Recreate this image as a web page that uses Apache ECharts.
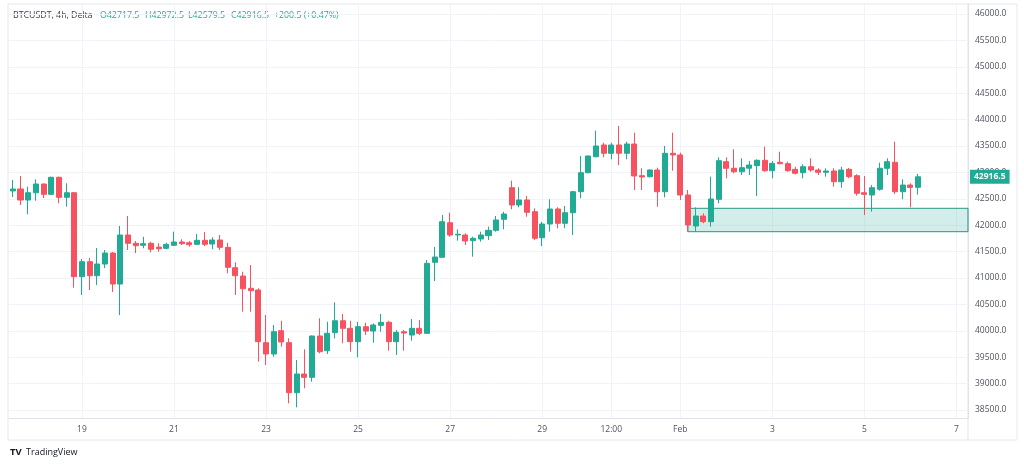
<!DOCTYPE html>
<html><head><meta charset="utf-8">
<script src="https://cdn.jsdelivr.net/npm/echarts@6/dist/echarts.min.js"></script>
<style>html,body{margin:0;padding:0;background:#fff}#c{width:1024px;height:467px}</style>
</head><body><div id="c"></div>
<script>
// ---- data (BTCUSDT 4h) ----
const opens = [42648,42686,42477,42615,42780,42585,42907,42528,42615,41025,41309,41044,41265,41473,40886,41814,41657,41620,41657,41585,41562,41620,41682,41668,41638,41714,41644,41720,41581,41195,41038,40805,40773,39775,39561,40002,39775,38828,39182,39119,39902,39623,39965,40191,40047,39794,40078,39996,40104,40161,39794,39983,39920,40047,39952,41297,41392,42047,41815,41814,41707,41739,41801,41903,42112,42710,42383,42478,42256,41763,42023,42307,42036,42237,42635,42994,43297,43519,43362,43519,43362,43538,42938,42918,43045,42634,43362,43330,42572,41985,42174,42066,42490,43203,43078,43013,43080,43127,43229,43032,43191,43165,43058,42994,43108,43045,43002,43026,42824,43058,42938,42615,42572,42680,43078,43191,42634,42761,42717.5];
const closes = [42686,42477,42615,42780,42585,42907,42528,42615,41025,41309,41044,41265,41473,40886,41814,41657,41612,41650,41544,41555,41638,41682,41650,41631,41714,41638,41720,41581,41203,41044,40797,40760,39794,39561,39983,39788,38828,39182,39119,39902,39604,39953,40191,40047,39794,40078,39996,40110,40161,39794,39971,39958,40047,39952,41278,41398,42066,41815,41828,41701,41752,41814,41903,42099,42212,42383,42478,42244,41752,42023,42307,42036,42237,42635,42994,43311,43500,43362,43519,43362,43538,42932,42913,43045,42634,43362,43330,42572,42004,42174,42066,42496,43222,43078,43013,43089,43140,43229,43032,43172,43165,43032,42983,43108,43045,43002,43026,42824,43045,42918,42604,42585,42710,43078,43203,42634,42761,42716,42916.5];
const lows = [42534,42383,42206,42464,42515,42572,42415,42350,40816,40678,40773,40868,41189,40735,40299,41530,41473,41563,41486,41498,41544,41606,41625,41593,41625,41606,41544,41530,41089,40678,40362,40362,39415,39352,39510,39699,38627,38551,38911,39036,39574,39561,39858,39763,39604,39498,39921,39775,39983,39623,39542,39623,39813,39920,39940,40943,41392,41782,41707,41625,41404,41688,41720,41877,41922,42301,42339,42161,41720,41606,41877,41941,41941,41814,42509,42983,43286,43286,43248,43140,43248,42667,42667,42907,42350,42528,43032,42477,41877,41877,42036,41972,42415,42888,42983,42951,42951,42553,43013,42888,43153,43013,42964,42888,43013,42951,42919,42729,42710,42888,42559,42193,42256,42654,42951,42591,42491,42339,42579.5];
const highs = [42856,42932,42729,42869,42790,42919,42919,42793,42629,41360,41379,41568,41530,41492,41985,42174,41701,41782,41688,41657,41668,41877,41733,41701,41833,41871,41771,41814,41668,41297,41119,41246,40805,40299,40110,40191,39858,39447,39650,39910,40237,40172,40540,40318,40191,40172,40153,40142,40318,40191,40015,40015,40223,40204,41341,41587,42193,42237,41922,41846,41782,41877,41972,42174,42256,42843,42718,42553,42320,42066,42490,42339,42364,42650,43311,43320,43790,43562,43562,43879,43581,43752,43078,43059,43089,43500,43752,43373,42667,42339,42225,42919,43286,43286,43437,43267,43216,43248,43487,43216,43392,43203,43108,43153,43267,43078,43078,43078,43108,43083,42964,42932,42761,43184,43267,43581,42869,42793,42972.5];

const TOTAL_SLOTS = 125;                 // 4h slots incl. empty future space
const START_UTC = Date.UTC(2024, 0, 17, 12);
const tickIndex = [9, 21, 33, 45, 57, 69, 78, 87, 99, 111, 123];
const tickLabels = ['19', '21', '23', '25', '27', '29', '12:00', 'Feb', '3', '5', '7'];
const priceTicks = [38500,39000,39500,40000,40500,41000,41500,42000,42500,43000,43500,44000,44500,45000,45500,46000];
const Y_MIN = 38349, Y_MAX = 46189;
const zoneStart = 88, zoneTop = 42320, zoneBottom = 41877;
const lastPrice = 42916.5;

const UP = '#22ab94', DOWN = '#f7525f';
const TXT = '#50535e', FONT = '"Open Sans", "DejaVu Sans", sans-serif';

const categories = [];
for (let i = 0; i < TOTAL_SLOTS; i++) {
  const d = new Date(START_UTC + i * 4 * 3600 * 1000);
  categories.push(d.toISOString().slice(0, 16).replace('T', ' '));
}
const candles = opens.map((o, i) => [o, closes[i], lows[i], highs[i]]);
const tickMap = {};
tickIndex.forEach((ix, k) => { tickMap[ix] = tickLabels[k]; });
const isTick = (i) => tickMap[i] !== undefined;

const chart = echarts.init(document.getElementById('c'), null, { renderer: 'canvas' });
chart.setOption({
  animation: false,
  backgroundColor: '#ffffff',
  grid: { left: 9, right: 56, top: 4, bottom: 49 },
  xAxis: {
    type: 'category',
    data: categories,
    boundaryGap: true,
    axisLine: { show: true, lineStyle: { color: '#e0e3eb' } },
    axisTick: { show: false },
    axisLabel: {
      interval: (i) => isTick(i),
      formatter: (v, i) => tickMap[i] || '',
      color: TXT, fontSize: 8.5, fontFamily: FONT, margin: 7
    },
    splitLine: { show: true, interval: (i) => isTick(i), alignWithLabel: true,
                 lineStyle: { color: '#f0f3fa', width: 1 } }
  },
  yAxis: {
    type: 'value',
    position: 'right',
    min: Y_MIN, max: Y_MAX,
    scale: true,
    axisLine: { show: true, lineStyle: { color: '#e0e3eb' } },
    axisTick: { show: false, customValues: priceTicks },
    axisLabel: {
      customValues: priceTicks,
      formatter: (v) => Number(v).toFixed(1),
      color: TXT, fontSize: 8.5, fontFamily: FONT, margin: 7
    },
    splitLine: { show: true, lineStyle: { color: '#f0f3fa', width: 1 } }
  },
  series: [
    {
      type: 'custom',
      z: 1,
      silent: true,
      data: [[zoneStart, zoneTop, zoneBottom]],
      encode: { x: 0, y: [1, 2] },
      renderItem: (params, api) => {
        const p1 = api.coord([api.value(0), api.value(1)]);
        const p2 = api.coord([api.value(0), api.value(2)]);
        const right = params.coordSys.x + params.coordSys.width;
        return {
          type: 'rect',
          shape: { x: p1[0], y: p1[1], width: right - p1[0], height: p2[1] - p1[1] },
          style: { fill: 'rgba(34,171,148,0.2)', stroke: '#2a9481', lineWidth: 1 }
        };
      }
    },
    {
      type: 'candlestick',
      z: 3,
      data: candles,
      barWidth: '72%',
      clip: false,
      itemStyle: { color: UP, color0: DOWN, borderColor: UP, borderColor0: DOWN, borderWidth: 1 },
      markLine: {
        silent: true,
        symbol: 'none',
        z: 10,
        lineStyle: { color: 'rgba(0,0,0,0)', width: 1, type: 'solid' },
        label: {
          show: true,
          position: 'end', distance: 2,
          formatter: () => lastPrice.toFixed(1),
          color: '#ffffff', backgroundColor: UP, padding: [3, 4, 2, 4],
          fontSize: 8.5, fontFamily: FONT, fontWeight: 'bold'
        },
        data: [{ yAxis: lastPrice }]
      }
    }
  ],
  graphic: [
    { type: 'rect', z: -1, silent: true, shape: { x: 8, y: 4, width: 1009, height: 436 },
      style: { fill: 'none', stroke: '#e6e8ee', lineWidth: 1 } },
    { type: 'line', silent: true, shape: { x1: 968, y1: 4, x2: 968, y2: 440 },
      style: { stroke: '#e0e3eb', lineWidth: 1 } },
    { type: 'text', silent: true, style: { x: 13, y: 15, text: 'BTCUSDT, 4h, Delta', fill: '#3d404a', font: '8.8px ' + FONT, verticalAlign: 'middle' } },
    { type: 'text', silent: true, style: { x: 100, y: 15, text: 'O42717.5', fill: UP, font: '8.8px ' + FONT, verticalAlign: 'middle' } },
    { type: 'text', silent: true, style: { x: 145, y: 15, text: 'H42972.5', fill: UP, font: '8.8px ' + FONT, verticalAlign: 'middle' } },
    { type: 'text', silent: true, style: { x: 188, y: 15, text: 'L42579.5', fill: UP, font: '8.8px ' + FONT, verticalAlign: 'middle' } },
    { type: 'text', silent: true, style: { x: 231, y: 15, text: 'C42916.5', fill: UP, font: '8.8px ' + FONT, verticalAlign: 'middle' } },
    { type: 'text', silent: true, style: { x: 274, y: 15, text: '+200.5 (+0.47%)', fill: UP, font: '8.8px ' + FONT, verticalAlign: 'middle' } },
    { type: 'text', silent: true, style: { x: 10, y: 452, text: 'TV', fill: '#131722', font: 'bold 9.5px ' + FONT, verticalAlign: 'middle' } },
    { type: 'text', silent: true, style: { x: 26, y: 452, text: 'TradingView', fill: '#131722', font: '9px ' + FONT, verticalAlign: 'middle' } }
  ]
});
</script></body></html>
